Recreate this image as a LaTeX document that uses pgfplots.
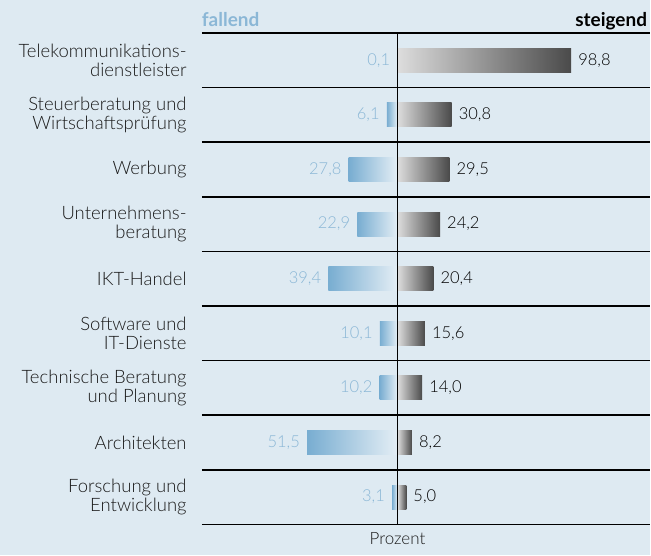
\documentclass[border=0pt]{standalone}
\usepackage{pgfplots}
\usepackage{pgfplotstable}
\pgfplotsset{compat=1.18}
\usepackage{fontspec}
\setmainfont{Lato Light}[BoldFont=Lato Bold]
\definecolor{bg}{HTML}{DEEAF2}
\definecolor{bluedark}{HTML}{78ADD1}
\definecolor{bluelight}{HTML}{E4EEF5}
\definecolor{bluetext}{HTML}{8BB7D6}
\definecolor{graylight}{HTML}{DDDDDD}
\definecolor{graydark}{HTML}{4A4A4A}
\definecolor{labeltext}{HTML}{1A1A1A}
\pgfplotstableread{
idx neg negl pos posl
1 -0.1 0,1 98.8 98,8
2 -6.1 6,1 30.8 30,8
3 -27.8 27,8 29.5 29,5
4 -22.9 22,9 24.2 24,2
5 -39.4 39,4 20.4 20,4
6 -10.1 10,1 15.6 15,6
7 -10.2 10,2 14.0 14,0
8 -51.5 51,5 8.2 8,2
9 -3.1 3,1 5.0 5,0
}\data
\begin{document}
\begin{tikzpicture}
\fill[bg] (-202pt,-31pt) rectangle (449pt,525pt);
\begin{axis}[
  at={(0pt,0pt)}, anchor=south west,
  scale only axis, width=449pt, height=492pt,
  xmin=-111.4, xmax=143.8, ymin=0.5, ymax=9.5, y dir=reverse,
  axis line style={draw=none},
  axis on top,
  clip=false,
  ytick={1,...,9},
  yticklabels={{Telekommunikations-\\dienstleister},{Steuerberatung und\\Wirtschaftsprüfung},{Werbung},{Unternehmens-\\beratung},{IKT-Handel},{Software und\\IT-Dienste},{Technische Beratung\\und Planung},{Architekten},{Forschung und\\Entwicklung}},
  minor ytick={0.5,1.5,...,9.5},
  yminorgrids,
  minor grid style={black, line width=1.6pt},
  major tick length=0pt, minor tick length=0pt,
  xtick={0}, xticklabels={Prozent},
  xmajorgrids,
  major grid style={black, line width=1.6pt},
  yticklabel style={align=right, text=labeltext, font=\fontsize{18.5}{19}\selectfont, inner sep=0pt, xshift=-15pt},
  xticklabel style={text=labeltext, font=\fontsize{17}{18}\selectfont, yshift=-5pt},
]
\pgfplotsinvokeforeach{1,...,9}{
\addplot[xbar, bar width=24pt, bar shift=0pt, draw=none, left color=bluedark, right color=bluelight,
  restrict y to domain=#1:#1,
  point meta=explicit symbolic, nodes near coords,
  every node near coord/.append style={anchor=east, text=bluetext, font=\fontsize{16.5}{17}\selectfont, inner sep=7pt}]
  table[x=neg, y=idx, meta=negl] {\data};
\addplot[xbar, bar width=24pt, bar shift=0pt, draw=none, left color=graylight, right color=graydark,
  restrict y to domain=#1:#1,
  point meta=explicit symbolic, nodes near coords,
  every node near coord/.append style={anchor=west, text=black, font=\fontsize{16.5}{17}\selectfont, inner sep=7pt}]
  table[x=pos, y=idx, meta=posl] {\data};
}
\end{axis}
\node[anchor=base west, font=\bfseries\fontsize{19}{20}\selectfont, text=bluetext, inner sep=0pt] at (0pt,498pt) {fallend};
\node[anchor=base east, font=\bfseries\fontsize{19}{20}\selectfont, text=black, inner sep=0pt] at (446pt,498pt) {steigend};
\end{tikzpicture}
\end{document}
